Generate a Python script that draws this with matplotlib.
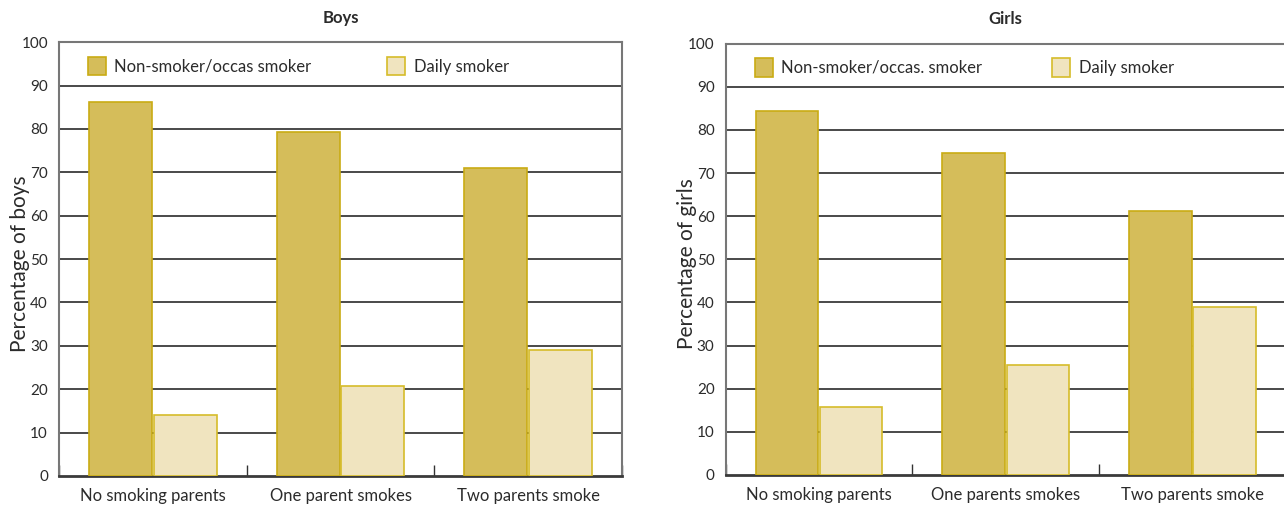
import matplotlib.pyplot as plt
import numpy as np

categories_boys = ["No smoking parents", "One parent smokes", "Two parents smoke"]
categories_girls = ["No smoking parents", "One parents smokes", "Two parents smoke"]
boys_nonsmoker = [86.2, 79.2, 71.0]
boys_daily = [14.0, 20.8, 29.0]
girls_nonsmoker = [84.3, 74.6, 61.2]
girls_daily = [15.7, 25.5, 39.0]

plt.rcParams['font.family'] = ['Lato', 'DejaVu Sans']

NS_FILL = "#d5bd5a"
NS_EDGE = "#c9ac14"
D_FILL = "#f0e4bf"
D_EDGE = "#d6bc2a"
TXT = "#2b2b2b"


def panel(ax, cats, ns, daily, title, ylabel, ns_label, right_spine=True):
    x = np.arange(len(cats)) + 0.5
    w = 0.335
    ax.bar(x - 0.172, ns, w, color=NS_FILL, edgecolor=NS_EDGE, linewidth=1.2, zorder=3)
    ax.bar(x + 0.172, daily, w, color=D_FILL, edgecolor=D_EDGE, linewidth=1.2, zorder=3)
    ax.set_xlim(0, 3)
    ax.set_ylim(0, 100)
    ax.set_yticks(range(0, 101, 10))
    ax.tick_params(axis='y', length=0, labelsize=11, labelcolor=TXT, pad=8)
    ax.set_xticks(x)
    ax.set_xticklabels(cats, fontsize=12, color=TXT)
    ax.tick_params(axis='x', which='major', length=0, pad=9)
    ax.set_xticks([0, 1, 2, 3], minor=True)
    ax.tick_params(axis='x', which='minor', direction='in', length=8, width=1, color="#333333")
    for v in range(10, 100, 10):
        ax.axhline(v, color="#3a3a3a", linewidth=1.3, zorder=1)
    for s in ['left', 'top', 'right']:
        ax.spines[s].set_color("#777777")
        ax.spines[s].set_linewidth(1.5)
    ax.spines['right'].set_visible(right_spine)
    ax.spines['bottom'].set_color("#3a3a3a")
    ax.spines['bottom'].set_linewidth(2)
    ax.set_title(title, fontsize=12, fontweight='bold', color=TXT, pad=14)
    ax.set_ylabel(ylabel, fontsize=15, color=TXT)
    ax.yaxis.set_label_coords(-0.052, 0.49)

    h1 = plt.Rectangle((0, 0), 1, 1, facecolor=NS_FILL, edgecolor=NS_EDGE, linewidth=1.2)
    h2 = plt.Rectangle((0, 0), 1, 1, facecolor=D_FILL, edgecolor=D_EDGE, linewidth=1.2)
    kw = dict(frameon=False, loc='center left', borderpad=0, borderaxespad=0,
              handlelength=1.08, handleheight=1.32, handletextpad=0.5, fontsize=12,
              labelcolor=TXT)
    leg1 = ax.legend([h1], [ns_label], bbox_to_anchor=(0.0517, 0.945), **kw)
    ax.add_artist(leg1)
    ax.legend([h2], ["Daily smoker"], bbox_to_anchor=(0.583, 0.945), **kw)


fig = plt.figure(figsize=(12.84, 5.08), dpi=100)
ax1 = fig.add_axes([0.046, 0.063, 0.4384, 0.854])
ax2 = fig.add_axes([0.5652, 0.065, 0.4362, 0.849])

panel(ax1, categories_boys, boys_nonsmoker, boys_daily, "Boys", "Percentage of boys",
      "Non-smoker/occas smoker")
panel(ax2, categories_girls, girls_nonsmoker, girls_daily, "Girls", "Percentage of girls",
      "Non-smoker/occas. smoker", right_spine=False)

fig.savefig("out.png", dpi=100)
